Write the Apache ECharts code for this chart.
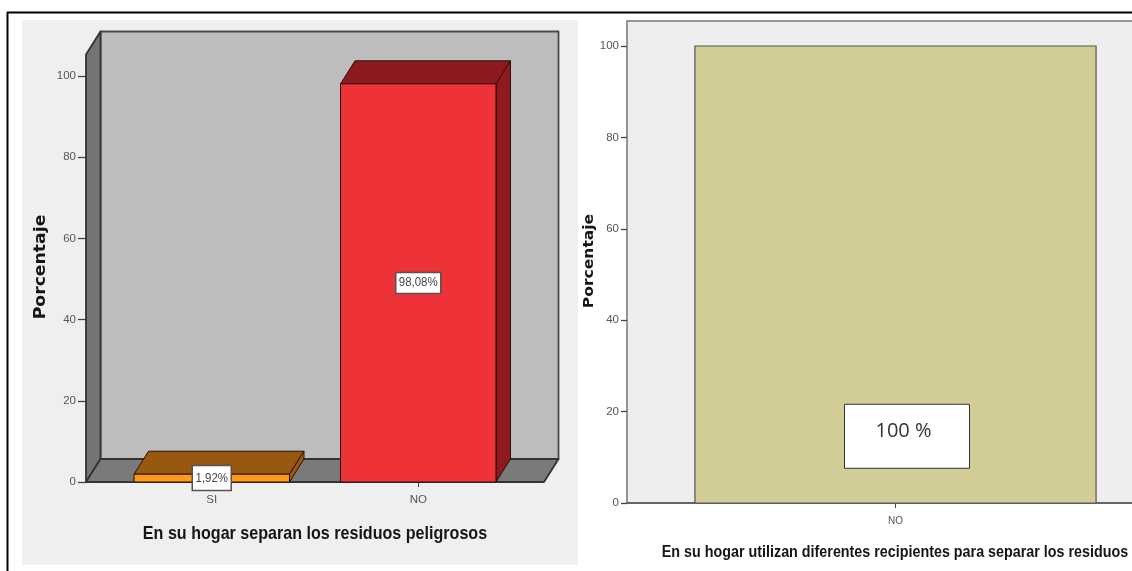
<!DOCTYPE html>
<html>
<head>
<meta charset="utf-8">
<style>html,body{margin:0;padding:0;background:#fff}#c{width:1132px;height:571px}</style>
<script src="https://cdn.jsdelivr.net/npm/echarts@6/dist/echarts.min.js"></script>
</head>
<body>
<div id="c"></div>
<script>
// Household waste separation survey: two percentage bar charts side by side
const tickValues = [0, 20, 40, 60, 80, 100];
const separaCategories = ['SI', 'NO'];
const separaValues = [1.92, 98.08];
const separaLabels = ['1,92%', '98,08%'];
const recipientesCategories = ['NO'];
const recipientesValues = [100];
const recipientesLabels = ['100 %'];
const axisTitle = 'Porcentaje';
const separaTitle = 'En su hogar separan los residuos peligrosos';
const recipientesTitle = 'En su hogar utilizan diferentes recipientes para separar los residuos';

const sans = '"Liberation Sans",sans-serif';
const DX = 14.5, DY = -23;           // oblique offset of the 3D depth
const SIDE = 22.5;                   // floor overhang beyond the category bands

const poly = (points, fill, stroke, width) => ({
  type: 'polygon',
  shape: { points },
  style: { fill, stroke, lineWidth: width === undefined ? 1 : width, lineJoin: 'round' }
});

// Back wall, side wall and floor of the 3D frame, taken from the grid rectangle
function renderFrame(params) {
  const r = params.coordSys;
  const l = r.x - SIDE, rt = r.x + r.width + SIDE, t = r.y, b = r.y + r.height;
  return {
    type: 'group',
    children: [
      poly([[l + DX, t + DY], [rt + DX, t + DY], [rt + DX, b + DY], [l + DX, b + DY]], '#bdbdbd', '#4a4a4a', 1.8),
      poly([[l, t], [l + DX, t + DY], [l + DX, b + DY], [l, b]], '#747474', '#333', 1.8),
      poly([[l, b], [l + DX, b + DY], [rt + DX, b + DY], [rt, b]], '#7a7a7a', '#333', 1.8)
    ]
  };
}

const palette3d = [
  { front: '#ff9a17', dark: '#96590f' },
  { front: '#ee3338', dark: '#8e1a20' }
];

function renderBar3d(params, api) {
  const i = api.value(0), v = api.value(1);
  const top = api.coord([i, v]), base = api.coord([i, 0]);
  const w = api.size([1, 0])[0] * 0.753;
  const x0 = top[0] - w / 2, x1 = top[0] + w / 2;
  const c = palette3d[i];
  const edge = '#2a1010';
  const boxW = i === 0 ? 39 : 45, boxH = i === 0 ? 25 : 21;
  const mid = api.coord([i, v / 2]);
  return {
    type: 'group',
    children: [
      poly([[x0, top[1]], [x0 + DX, top[1] + DY], [x1 + DX, top[1] + DY], [x1, top[1]]], c.dark, edge),
      poly([[x1, top[1]], [x1 + DX, top[1] + DY], [x1 + DX, base[1] + DY], [x1, base[1]]], c.dark, edge),
      { type: 'rect', shape: { x: x0, y: top[1], width: w, height: base[1] - top[1] },
        style: { fill: c.front, stroke: edge, lineWidth: 1 } },
      { type: 'rect', shape: { x: mid[0] - boxW / 2, y: mid[1] - boxH / 2, width: boxW, height: boxH },
        style: { fill: '#fff', stroke: '#555', lineWidth: 1.5 } },
      { type: 'text', x: mid[0], y: mid[1], scaleX: 0.88,
        style: { text: separaLabels[i], align: 'center', verticalAlign: 'middle', fill: '#444', font: '13px ' + sans } }
    ]
  };
}

function renderBarFlat(params, api) {
  const i = api.value(0), v = api.value(1);
  const top = api.coord([i, v]), base = api.coord([i, 0]);
  const w = api.size([1, 0])[0] * 0.747;
  const boxTop = api.coord([i, 21.6]), boxBase = api.coord([i, 7.6]);
  return {
    type: 'group',
    children: [
      { type: 'rect', shape: { x: top[0] - w / 2, y: top[1], width: w, height: base[1] - top[1] },
        style: { fill: '#d2cd96', stroke: '#555', lineWidth: 1.2 } },
      { type: 'rect', shape: { x: top[0] - 51, y: boxTop[1], width: 125, height: boxBase[1] - boxTop[1] },
        style: { fill: '#fff', stroke: '#333', lineWidth: 1 } },
      { type: 'text', x: top[0] + 8, y: boxTop[1] + 27,
        style: { text: recipientesLabels[i], align: 'center', verticalAlign: 'middle', fill: '#333',
                 font: '20px "Open Sans",sans-serif' } }
    ]
  };
}

const valueAxis = (gridIndex, max, offset, tickLen, margin) => ({
  type: 'value', gridIndex, min: 0, max, offset,
  splitLine: { show: false },
  axisLine: { show: false },
  axisTick: { show: true, length: tickLen, customValues: tickValues, lineStyle: { color: '#444', width: 1.3 } },
  axisLabel: { customValues: tickValues, margin, fontFamily: sans, fontSize: 11.5, color: '#555' }
});

const catAxis = (gridIndex, data, showLine, margin, size) => ({
  type: 'category', gridIndex, data,
  axisLine: { show: showLine, lineStyle: { color: '#555', width: 1.5 } },
  axisTick: { show: true, alignWithLabel: true, length: 5, lineStyle: { color: '#444' } },
  axisLabel: { margin, fontFamily: sans, fontSize: size, color: '#555' }
});

// Condensed axis titles, stretched along their baseline to the drawn width
const titleText = (text, x, y, size, scaleX) => ({
  type: 'text', x, y, scaleX, z: 5,
  style: { text, align: 'center', verticalAlign: 'middle', fill: '#151515', font: 'bold ' + size + 'px ' + sans }
});
const sideTitle = (text, x, y, size, scaleX) => ({
  type: 'text', x, y, scaleX, rotation: Math.PI / 2, z: 5,
  style: { text, align: 'center', verticalAlign: 'middle', fill: '#151515', font: 'bold ' + size + 'px "DejaVu Sans"' }
});

const chart = echarts.init(document.getElementById('c'));
chart.setOption({
  animation: false,
  backgroundColor: '#fff',
  graphic: [
    { type: 'rect', z: -10, shape: { x: 22, y: 20, width: 556, height: 545 }, style: { fill: '#efefef' } },
    { type: 'line', shape: { x1: 7, y1: 12.5, x2: 1132, y2: 12.5 }, style: { stroke: '#000', lineWidth: 2 } },
    { type: 'line', shape: { x1: 7.5, y1: 12, x2: 7.5, y2: 571 }, style: { stroke: '#000', lineWidth: 2 } },
    titleText(separaTitle, 315, 534, 19, 0.847),
    titleText(recipientesTitle, 895, 552, 16.5, 0.868),
    sideTitle(axisTitle, 41, 267, 15, 1.15),
    sideTitle(axisTitle, 589, 261, 14, 1.11)
  ],
  grid: [
    { left: 108.5, top: 54.5, width: 413, height: 427.5, outerBoundsMode: 'none' },
    { left: 627, top: 21, width: 537, height: 482, outerBoundsMode: 'none', show: true,
      backgroundColor: '#eeeeee', borderColor: '#777', borderWidth: 1.5 }
  ],
  xAxis: [
    catAxis(0, separaCategories, false, 12, 11.5),
    catAxis(1, recipientesCategories, true, 13, 10)
  ],
  yAxis: [
    valueAxis(0, 105.3, 22.5, 8, 10),
    valueAxis(1, 105.47, 0, 6, 8)
  ],
  series: [
    { type: 'custom', xAxisIndex: 0, yAxisIndex: 0, renderItem: renderFrame, data: [[0, 0]], silent: true, z: 1 },
    { type: 'custom', xAxisIndex: 0, yAxisIndex: 0, renderItem: renderBar3d, z: 2,
      data: separaValues.map((v, i) => [i, v]) },
    { type: 'custom', xAxisIndex: 1, yAxisIndex: 1, renderItem: renderBarFlat, z: 2,
      data: recipientesValues.map((v, i) => [i, v]) }
  ]
});
</script>
</body>
</html>
